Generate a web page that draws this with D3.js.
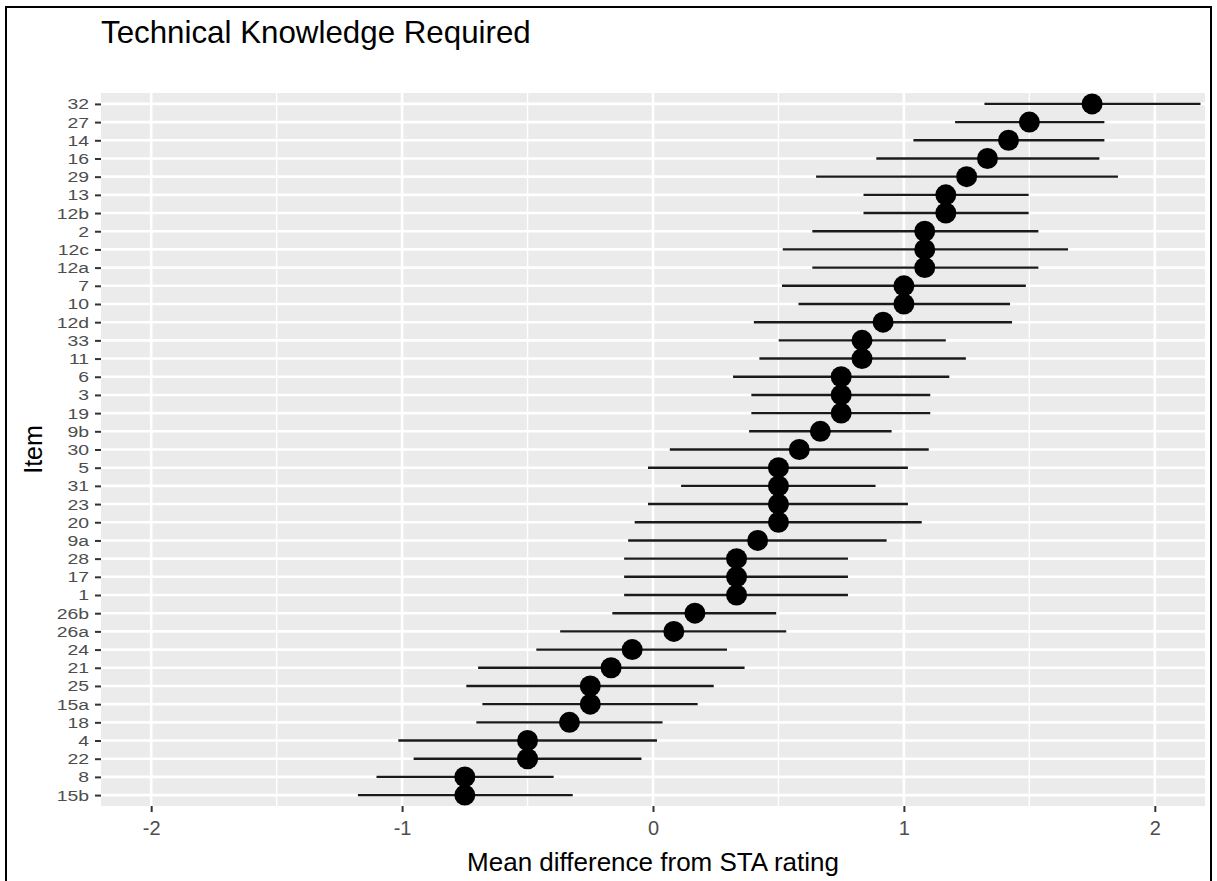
<!DOCTYPE html>
<html>
<head>
<meta charset="utf-8">
<script src="https://cdn.jsdelivr.net/npm/d3@7"></script>
<style>
  html, body { margin: 0; padding: 0; background: #fff; }
  svg { display: block; }
</style>
</head>
<body>
<script>
// ---- Data (top to bottom as displayed) ----
const items = ["32","27","14","16","29","13","12b","2","12c","12a","7","10","12d","33","11","6","3","19","9b","30","5","31","23","20","9a","28","17","1","26b","26a","24","21","25","15a","18","4","22","8","15b"];
const means = [1.75,1.5,1.417,1.333,1.25,1.167,1.167,1.083,1.083,1.083,1.0,1.0,0.917,0.833,0.833,0.75,0.75,0.75,0.667,0.583,0.5,0.5,0.5,0.5,0.417,0.333,0.333,0.333,0.167,0.083,-0.083,-0.167,-0.25,-0.25,-0.333,-0.5,-0.5,-0.75,-0.75];
const lower = [1.321,1.204,1.038,0.89,0.65,0.839,0.839,0.635,0.517,0.635,0.514,0.58,0.402,0.501,0.424,0.319,0.392,0.392,0.383,0.067,-0.02,0.112,-0.02,-0.073,-0.099,-0.115,-0.115,-0.115,-0.162,-0.37,-0.465,-0.697,-0.744,-0.68,-0.704,-1.015,-0.954,-1.102,-1.176];
const upper = [2.182,1.799,1.799,1.779,1.853,1.497,1.497,1.536,1.654,1.536,1.486,1.423,1.431,1.167,1.247,1.181,1.105,1.105,0.951,1.099,1.016,0.887,1.016,1.071,0.931,0.777,0.777,0.777,0.491,0.531,0.295,0.365,0.242,0.178,0.038,0.016,-0.046,-0.396,-0.32];
const xMajor = [-2,-1,0,1,2];
const xMinor = [-1.5,-0.5,0.5,1.5];
const xDomain = [-2.2, 2.2];

const W = 1217, H = 881;
const panel = {left: 101, right: 1205, top: 93, bottom: 806};

const svg = d3.select("body").append("svg").attr("width", W).attr("height", H);

// outer border
svg.append("rect").attr("x", 6).attr("y", 7).attr("width", 1205).attr("height", 880)
  .attr("fill", "none").attr("stroke", "#000").attr("stroke-width", 2);

const x = d3.scaleLinear().domain(xDomain).range([panel.left, panel.right]);
const y = d3.scalePoint().domain(items).range([panel.top, panel.bottom]).padding(0.6);

// panel background
svg.append("rect").attr("x", panel.left).attr("y", panel.top)
  .attr("width", panel.right - panel.left).attr("height", panel.bottom - panel.top)
  .attr("fill", "#EBEBEB");

const grid = svg.append("g");
grid.selectAll("line.minor").data(xMinor).join("line")
  .attr("x1", d => x(d)).attr("x2", d => x(d))
  .attr("y1", panel.top).attr("y2", panel.bottom)
  .attr("stroke", "#fff").attr("stroke-width", 1.4);
grid.selectAll("line.majx").data(xMajor).join("line").attr("class","majx")
  .attr("x1", d => x(d)).attr("x2", d => x(d))
  .attr("y1", panel.top).attr("y2", panel.bottom)
  .attr("stroke", "#fff").attr("stroke-width", 2.6);
grid.selectAll("line.majy").data(items).join("line").attr("class","majy")
  .attr("x1", panel.left).attr("x2", panel.right)
  .attr("y1", d => y(d)).attr("y2", d => y(d))
  .attr("stroke", "#fff").attr("stroke-width", 2.6);

// error bars
const data = items.map((it, i) => ({item: it, m: means[i], lo: lower[i], hi: upper[i]}));
svg.append("g").selectAll("line").data(data).join("line")
  .attr("x1", d => x(d.lo)).attr("x2", d => x(d.hi))
  .attr("y1", d => y(d.item)).attr("y2", d => y(d.item))
  .attr("stroke", "#1a1a1a").attr("stroke-width", 2.4);

// points
svg.append("g").selectAll("circle").data(data).join("circle")
  .attr("cx", d => x(d.m)).attr("cy", d => y(d.item)).attr("r", 10.5)
  .attr("fill", "#000");

// axes
const font = "'Liberation Sans', Arial, Helvetica, sans-serif";
const xAxis = svg.append("g").attr("transform", `translate(0,${panel.bottom})`)
  .call(d3.axisBottom(x).tickValues(xMajor).tickSize(6).tickPadding(9).tickFormat(d => String(d)));
xAxis.select(".domain").remove();
xAxis.selectAll("line").attr("stroke", "#333").attr("stroke-width", 2);
xAxis.selectAll("text").attr("fill", "#4D4D4D").style("font-family", font).style("font-size", "20px");

const yAxis = svg.append("g").attr("transform", `translate(${panel.left},0)`)
  .call(d3.axisLeft(y).tickSize(6).tickPadding(6));
yAxis.select(".domain").remove();
yAxis.selectAll("line").attr("stroke", "#333").attr("stroke-width", 2);
yAxis.selectAll("text").attr("fill", "#4D4D4D").style("font-family", font).style("font-size", "15.5px")
  .each(function() {
    const len = this.getComputedTextLength();
    d3.select(this).attr("textLength", len * 1.25).attr("lengthAdjust", "spacingAndGlyphs");
  });

// titles
svg.append("text").attr("x", 101).attr("y", 43)
  .style("font-family", font).style("font-size", "31.3px").attr("fill", "#000")
  .text("Technical Knowledge Required");
svg.append("text").attr("x", (panel.left + panel.right) / 2).attr("y", 871)
  .attr("text-anchor", "middle")
  .style("font-family", font).style("font-size", "26px").attr("fill", "#000")
  .text("Mean difference from STA rating");
svg.append("text").attr("transform", `translate(42,${(panel.top + panel.bottom) / 2}) rotate(-90)`)
  .attr("text-anchor", "middle")
  .style("font-family", font).style("font-size", "25px").attr("fill", "#000")
  .text("Item");
</script>
</body>
</html>
